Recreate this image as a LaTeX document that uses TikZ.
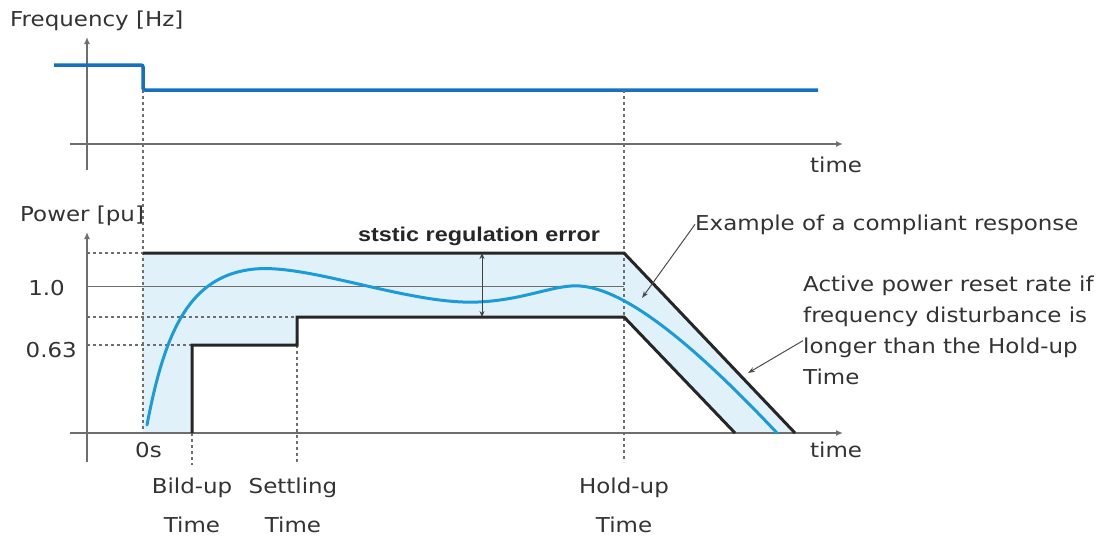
\documentclass[tikz,border=0pt]{standalone}
\usepackage{fontspec}
\usepackage{tikz}
\usetikzlibrary{arrows.meta}
\setmainfont{DejaVu Sans}[FakeStretch=1.12]
\newfontfamily\boldfont{Liberation Sans}[FakeStretch=1.17]

\definecolor{freqblue}{HTML}{1570C0}
\definecolor{respblue}{HTML}{1B9BD7}
\definecolor{bandfill}{HTML}{E1F1FA}
\definecolor{axisgray}{HTML}{6E6E6E}
\definecolor{txtgray}{HTML}{333333}

\begin{document}
\begin{tikzpicture}[x=1pt,y=-1pt,
    lbl/.style={font=\fontsize{20.5}{31}\selectfont, text=txtgray, inner sep=0pt},
    ticklbl/.style={lbl, font=\fontsize{20.5}{39}\selectfont, align=center, anchor=north},
    axis/.style={axisgray, line width=2pt},
    axisarrow/.style={axis, -{Latex[length=7pt,width=6pt]}},
    guide/.style={axisgray, line width=1.3pt, dash pattern=on 3pt off 3pt},
    envelope/.style={black!85, line width=3pt},
    leader/.style={black!70, line width=1pt, -{Stealth[length=7pt,width=5pt]}}]

    \useasboundingbox (0,0) rectangle (1102,538);

    % frequency
    \draw[axisarrow] (87,170) -- (87,37);
    \draw[axisarrow] (70,144) -- (843,144);
    \draw[freqblue, line width=3.5pt, rounded corners=2pt] (54,65) -- (143,65) -- (143,90) -- (818,90);
    \node[lbl, anchor=base west] (fhz) at (10,27) {Frequency [Hz]};
    \node[lbl, anchor=base west] (ftime) at (810,172) {time};

    % power
    \fill[bandfill] (143,433) -- (143,253) -- (624,253) -- (795,433) -- (735,433)
        -- (624,317) -- (297,317) -- (297,345) -- (192,345) -- (192,433) -- cycle;

    \draw[guide] (143,90) -- (143,433);
    \draw[guide] (624,90) -- (624,462);
    \draw[guide] (192,433) -- (192,465);
    \draw[guide] (297,345) -- (297,462);
    \foreach \y/\xe in {253/143, 317/297, 345/192}{
        \draw[guide] (87,\y) -- (\xe,\y);
    }
    \draw[axisgray, line width=1pt] (87,286) -- (624,286);

    \draw[axisarrow] (87,462) -- (87,232);
    \draw[axisarrow] (70,433) -- (843,433);

    \draw[envelope] (143,253) -- (624,253) -- (795,433);
    \draw[envelope] (192,433) -- (192,345) -- (297,345) -- (297,317) -- (624,317) -- (735,433);

    \draw[respblue, line width=3pt, line cap=round] (147,425)
        .. controls (165,330) and (190,275) .. (255,269)
        .. controls (310,264) and (410,305) .. (478,302)
        .. controls (525,300) and (555,284) .. (580,286)
        .. controls (620,289) and (680,330) .. (777,433);

    \draw[black!75, line width=1pt, {Stealth[length=6pt,width=5pt]}-{Stealth[length=6pt,width=5pt]}] (482,253) -- (482,317);

    \node[lbl, anchor=base west] (ppu) at (20,221) {Power [pu]};
    \node[lbl, anchor=base east] (one) at (65,295) {1.0};
    \node[lbl, anchor=base east] (p63) at (77,357) {0.63};
    \node[lbl, anchor=base west] (zero) at (135,457) {0s};
    \node[lbl, anchor=base west] (ptime) at (810,457) {time};

    \node[ticklbl] (bild) at (192,478) {Bild-up\\Time};
    \node[ticklbl] (settle) at (293,478) {Settling\\Time};
    \node[ticklbl] (hold) at (624,478) {Hold-up\\Time};

    \node[font=\boldfont\bfseries\fontsize{20}{24}\selectfont, text=black!85, inner sep=0pt, anchor=base] (err) at (479,241) {ststic regulation error};

    \node[lbl, anchor=base west] (ex) at (695,230) {Example of a compliant response};
    \node[lbl, anchor=north west, align=left] (reset) at (803,276) {Active power reset rate if\\frequency disturbance is\\longer than the Hold-up\\Time};

    \coordinate (cmp) at (642,298);
    \coordinate (rst) at (748,373);
    \draw[leader] (ex.west) -- (cmp);
    \draw[leader] ([yshift=-10pt]reset.west) -- (rst);
\end{tikzpicture}
\end{document}
